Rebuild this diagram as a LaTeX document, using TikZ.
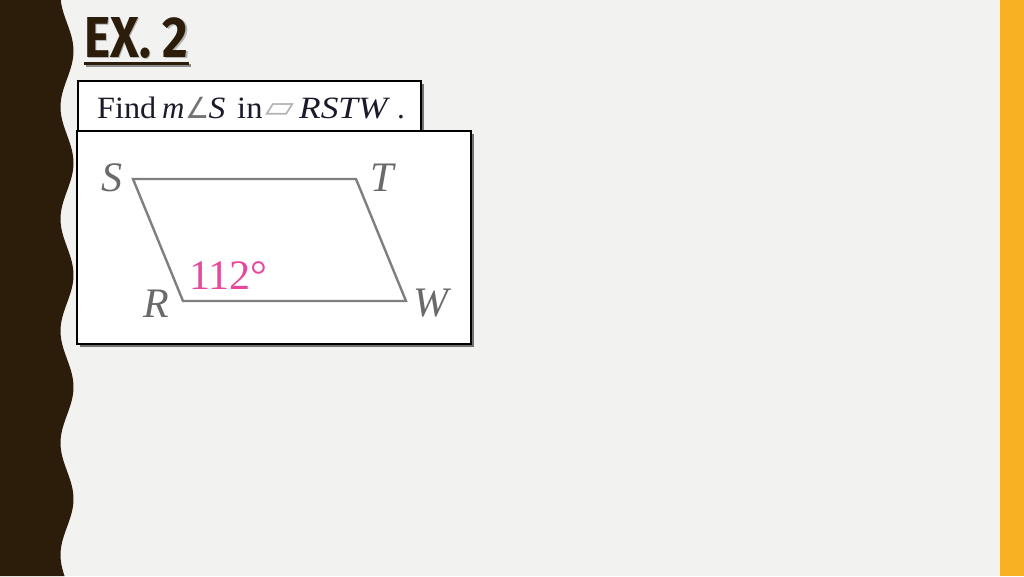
\documentclass[tikz,border=0pt]{standalone}
\usepackage{fontspec}
\usepackage{graphicx}
\setmainfont{Liberation Serif}
\newfontfamily\titlefont{Fira Sans}
\newfontfamily\symfont{DejaVu Sans}
\definecolor{bgc}{HTML}{F2F2F0}
\definecolor{darkstrip}{HTML}{2B1D0A}
\definecolor{orangebar}{HTML}{F8B123}
\definecolor{labelgray}{HTML}{6A6A6A}
\definecolor{linegray}{HTML}{7F7F7F}
\definecolor{pinkc}{HTML}{E8489C}
\definecolor{textc}{HTML}{1A1A2A}
\tikzset{
  panel/.style={draw=black, line width=2.4pt, fill=white},
  shadowbox/.style={fill=black!55, draw=none},
  vlabel/.style={anchor=base west, inner sep=0pt, text=labelgray, font=\fontsize{42}{42}\selectfont\itshape},
  qtext/.style={anchor=base west, inner sep=0pt, text=textc, font=\fontsize{31}{31}\selectfont},
}
\begin{document}
\begin{tikzpicture}[x=1pt,y=-1pt]
\useasboundingbox (0,0) rectangle (1024,576);
% background
\fill[bgc] (0,0) rectangle (1024,576);
\fill[orangebar] (1000,0) rectangle (1024,576);
% wavy strip
\fill[darkstrip] (0,0) -- plot[smooth, samples=160, domain=0:576] ({67+6.5*cos((\x-51)*3.2142857)}, \x) -- (0,576) -- cycle;
% title
\node[anchor=base west, inner sep=0pt, text=black!45, opacity=0.6] at (85.5,58.5) {\titlefont\bfseries\resizebox{104pt}{40pt}{EX. 2}};
\node (title) [anchor=base west, inner sep=0pt, text=darkstrip] at (84,57) {\titlefont\bfseries\resizebox{104pt}{40pt}{EX. 2}};
\draw[black!45, line width=3pt] (85.5,65.5) -- (190.5,65.5);
\draw[darkstrip, line width=3pt] (title.base west) ++(0,6.5) coordinate (ul1) -- ++(105,0) coordinate (ul2);
% box 1
\fill[shadowbox] (80.5,83.5) rectangle (423.5,133.5);
\draw[panel] (78,81) rectangle (421,131);
\node (qbox) at (249.5,106) {};
% box 2
\fill[shadowbox] (79.5,133.5) rectangle (473.5,346.5);
\draw[panel] (77,131) rectangle (471,344);
% question text
\node (q1) [qtext] at (97,118) {\scalebox{1.04}[1]{Find}};
\node (q2) [qtext] at (162,118) {\itshape m};
\node (q3) [qtext, text=black!55] at (185.5,118) {\symfont\fontsize{27}{27}\selectfont\scalebox{1}[1.08]{∠}};
\node (q4) [qtext] at (208.5,118) {\scalebox{1.08}[1]{\itshape S}};
\node (q5) [qtext] at (237,118) {\scalebox{1.05}[1]{in}};
\node (q6) [qtext, text=black!30] at (265,117) {\symfont\fontsize{26}{26}\selectfont\scalebox{1.45}[1.2]{▱}};
\node (q7) [qtext] at (299,118) {\scalebox{1.14}[1]{\itshape RSTW}};
\node (q8) [qtext] at (397,118) {.};
% parallelogram
\coordinate (S) at (133,179);
\coordinate (T) at (356,179);
\coordinate (W) at (406,301);
\coordinate (R) at (183,301);
\draw[linegray, line width=2.4pt, line join=miter] (S) -- (T) -- (W) -- (R) -- cycle;
% labels
\node (lS) [vlabel] at (101,191) {S};
\node (lT) [vlabel] at (370,191) {T};
\node (lR) [vlabel] at (143,317) {R};
\node (lW) [vlabel] at (413,316) {W};
\node (ang) [anchor=base west, inner sep=0pt, text=pinkc, font=\fontsize{42}{42}\selectfont] at (189,289) {112°};
\end{tikzpicture}
\end{document}
